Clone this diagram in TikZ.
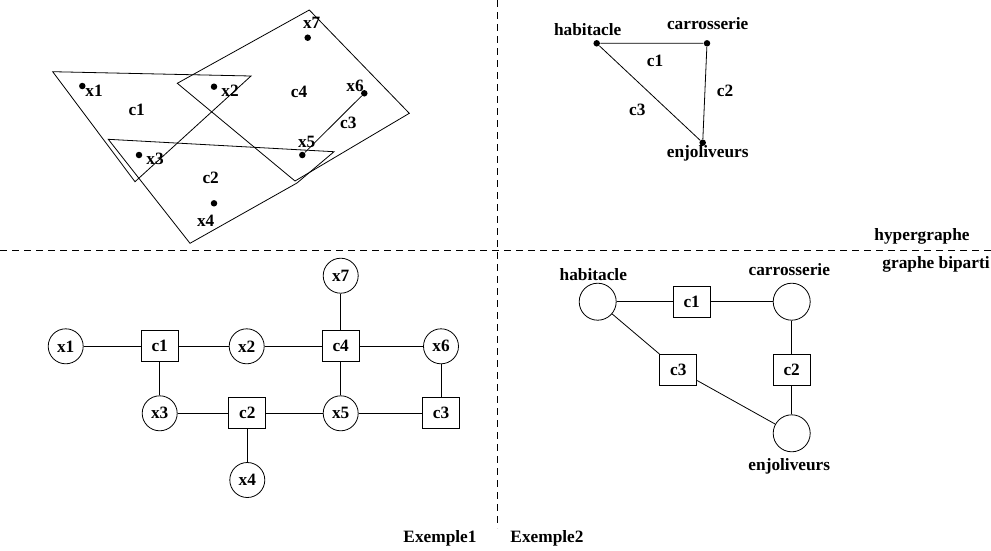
\documentclass[tikz,border=0pt]{standalone}
\usepackage{fontspec}
\setmainfont{Liberation Serif}
\begin{document}
\begin{tikzpicture}[x=1pt,y=-1pt,line width=0.8pt,
		every node/.style={font=\fontsize{17.3}{20}\selectfont\bfseries},
		pt/.style={circle,fill,inner sep=0pt,minimum size=6.5pt},
		var/.style={draw,circle,inner sep=0pt,minimum size=35pt},
		cons/.style={draw,rectangle,inner sep=0pt,minimum width=37pt,minimum height=31pt},
		sep/.style={dash pattern=on 7pt off 5pt}]
		\useasboundingbox (0,0) rectangle (991,550);
		% separations
		\draw[sep] (0,250) -- (991,250);
		\draw[sep] (497,0) -- (497,528);
		\node at (922,236) {hypergraphe};
		\node at (936,264) {graphe biparti};
		\node at (440,538) {Exemple1};
		\node at (547,538) {Exemple2};
		% hypergraphe, exemple 1
		\draw (52.7,71.7) -- (251,76) -- (135,181.7) -- cycle;
		\draw (108.3,139.3) -- (334,151.7) -- (297,183) -- (190,243.3) -- cycle;
		\draw (177.3,83.3) -- (309.3,10) -- (409.3,113.3) -- (295,181) -- cycle;
		\node[pt] (h1) at (82.3,86) {};
		\node[pt] (h2) at (214,86.7) {};
		\node[pt] (h3) at (139,155) {};
		\node[pt] (h4) at (214,203.3) {};
		\node[pt] (h5) at (302.3,155) {};
		\node[pt] (h6) at (364.3,93.3) {};
		\node[pt] (h7) at (307.7,37.7) {};
		\draw (h5) -- (h6);
		\node at (94,90.7) {x1};
		\node at (230,90.7) {x2};
		\node at (155,159) {x3};
		\node at (205.7,220.7) {x4};
		\node at (306.7,141.7) {x5};
		\node at (355,86) {x6};
		\node at (311.7,23.3) {x7};
		\node at (136.7,110) {c1};
		\node at (210.7,178.3) {c2};
		\node at (348.3,122.7) {c3};
		\node at (299,91.7) {c4};
		% hypergraphe, exemple 2
		\node[pt] (hab) at (596.7,43.3) {};
		\node[pt] (car) at (707,43.3) {};
		\node[pt] (enj) at (702.7,142.7) {};
		\draw (hab) -- (car) (car) -- (enj) (hab) -- (enj);
		\node at (587.7,30) {habitacle};
		\node at (707.7,23.3) {carrosserie};
		\node at (707.7,153.3) {enjoliveurs};
		\node at (655,60.7) {c1};
		\node at (725,90.7) {c2};
		\node at (637.3,110) {c3};
		% graphe biparti, exemple 1
		\node[var] (x1) at (65.7,346.3) {x1};
		\node[cons] (c1) at (159.7,346.3) {c1};
		\node[var] (x2) at (246.7,346.3) {x2};
		\node[cons] (c4) at (340.7,346.3) {c4};
		\node[var] (x6) at (441,346.3) {x6};
		\node[var] (x7) at (340.7,275.7) {x7};
		\node[var] (x3) at (159.7,413.3) {x3};
		\node[cons] (c2) at (247.3,413.3) {c2};
		\node[var] (x5) at (340.7,413.3) {x5};
		\node[cons] (c3) at (441,413.3) {c3};
		\node[var] (x4) at (247.3,480) {x4};
		\draw (x1) -- (c1) (c1) -- (x2) (x2) -- (c4) (c4) -- (x6);
		\draw (c4) -- (x7) (c4) -- (x5) (c1) -- (x3);
		\draw (x3) -- (c2) (c2) -- (x5) (x5) -- (c3) (c3) -- (x6) (c2) -- (x4);
		% graphe biparti, exemple 2
		\node[var,minimum size=37pt] (vhab) at (597.7,301.7) {};
		\node[cons] (d1) at (691.7,301.7) {c1};
		\node[var,minimum size=37pt] (vcar) at (791.7,301.7) {};
		\node[cons] (d2) at (791.7,370) {c2};
		\node[cons] (d3) at (678.3,370) {c3};
		\node[var,minimum size=37pt] (venj) at (791.7,433.3) {};
		\node at (593.3,275) {habitacle};
		\node at (789.3,269.3) {carrosserie};
		\node at (789.3,466.7) {enjoliveurs};
		\draw (vhab) -- (d1) (d1) -- (vcar) (vcar) -- (d2) (d2) -- (venj);
		\draw (vhab) -- (d3) (d3) -- (venj);
	\end{tikzpicture}
\end{document}
